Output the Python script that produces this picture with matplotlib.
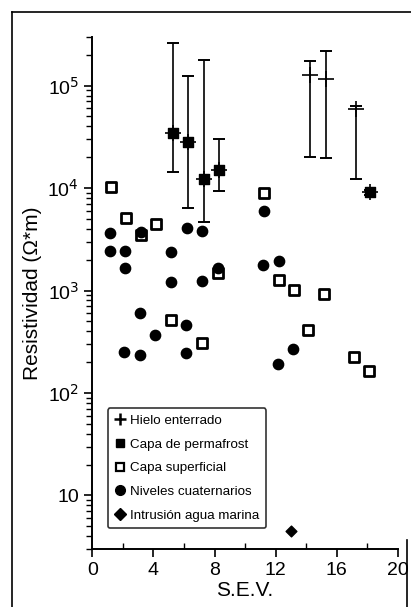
import matplotlib
matplotlib.use("Agg")
import matplotlib.pyplot as plt
from matplotlib.lines import Line2D
import numpy as np

plt.rcParams['font.family'] = ['Liberation Sans', 'DejaVu Sans']

# Hielo enterrado (crosses with error bars)
hielo_x = [5.27, 6.26, 7.28, 8.29, 14.28, 15.28, 17.25, 18.2]
hielo_y = [34400, 28200, 12300, 15100, 126000, 117000, 58700, 9100]
hielo_lo = [14300, 6450, 4640, 9460, 19900, 19600, 12300, 8600]
hielo_hi = [263000, 123000, 179000, 30000, 174000, 216000, 63000, 9600]

# Capa de permafrost (filled squares)
perma_x = [5.27, 6.26, 7.28, 8.29, 18.2]
perma_y = [34400, 28200, 12300, 15100, 9100]

# Capa superficial (open squares)
sup_x = [1.23, 2.19, 3.19, 4.18, 5.14, 7.15, 8.22, 11.21, 12.2, 13.18, 14.12, 15.15, 17.1, 18.1]
sup_y = [10200, 5080, 3470, 4470, 510, 309, 1470, 8900, 1260, 1010, 409, 930, 225, 164]

# Niveles cuaternarios (filled circles)
niv_x = [1.16, 1.16, 2.14, 2.14, 2.1, 3.19, 3.13, 3.13, 4.11, 5.16, 5.16, 6.21, 6.16, 6.12,
         7.21, 7.17, 8.22, 11.21, 11.17, 12.2, 12.16, 13.14]
niv_y = [3640, 2450, 2450, 1660, 251, 3760, 600, 234, 367, 2380, 1220, 4070, 463, 246,
         3850, 1250, 1660, 6000, 1760, 1950, 191, 266]

# Intrusión agua marina (diamond)
intr_x = [13.03]
intr_y = [4.45]

xticks = [0, 4, 8, 12, 16, 20]
yticks = [10, 100, 1000, 10000, 100000]
ytick_labels = ['10', '10$^{2}$', '10$^{3}$', '10$^{4}$', '10$^{5}$']

fig = plt.figure(figsize=(4.11, 6.07), dpi=100)
ax = fig.add_axes([0.2246, 0.0956, 0.968 - 0.2246, 0.9395 - 0.0956])

yerr = [np.array(hielo_y) - np.array(hielo_lo), np.array(hielo_hi) - np.array(hielo_y)]
ax.errorbar(hielo_x, hielo_y, yerr=yerr, fmt='none', ecolor='black', elinewidth=1.2,
            capsize=4.5, capthick=1.4, zorder=2)
ax.scatter(perma_x, perma_y, marker='s', s=60, color='black', zorder=3)
ax.scatter(hielo_x, hielo_y, marker='+', s=140, color='black', linewidths=1.2, zorder=4)
ax.scatter(sup_x, sup_y, marker='s', s=42, facecolor='white', edgecolor='black',
           linewidths=2.0, zorder=3)
ax.scatter(niv_x, niv_y, marker='o', s=55, color='black', zorder=3)
ax.scatter(intr_x, intr_y, marker='D', s=30, color='black', zorder=3)

ax.set_yscale('log')
ax.set_xlim(0, 20)
ax.set_ylim(3, 3e5)
ax.set_xticks(xticks)
ax.set_xticks([2, 6, 10, 14, 18], minor=True)
ax.set_yticks(yticks)
ax.set_yticklabels(ytick_labels)
ax.tick_params(axis='both', which='major', labelsize=14, length=6, width=1.2, direction='out')
ax.tick_params(axis='x', which='minor', length=4, width=1.0, direction='in')
ax.tick_params(axis='y', which='minor', length=4, width=1.0, direction='out')

for s in ['top', 'right']:
    ax.spines[s].set_visible(False)
for s in ['left', 'bottom']:
    ax.spines[s].set_linewidth(1.4)

ax.set_xlabel('S.E.V.', fontsize=15, labelpad=1)
ax.set_ylabel('Resistividad (\u03a9*m)', fontsize=15, labelpad=4)

handles = [
    Line2D([], [], marker='+', linestyle='none', color='black', markersize=8, markeredgewidth=1.8),
    Line2D([], [], marker='s', linestyle='none', color='black', markersize=6),
    Line2D([], [], marker='s', linestyle='none', markerfacecolor='white', markeredgecolor='black',
           markersize=6, markeredgewidth=1.6),
    Line2D([], [], marker='o', linestyle='none', color='black', markersize=7),
    Line2D([], [], marker='D', linestyle='none', color='black', markersize=6),
]
labels = ['Hielo enterrado', 'Capa de permafrost', 'Capa superficial',
          'Niveles cuaternarios', 'Intrusión agua marina']
leg = ax.legend(handles, labels, loc='lower left', bbox_to_anchor=(0.05, 0.04),
                borderaxespad=0, fontsize=9.6, frameon=True, fancybox=True,
                handlelength=0.8, handletextpad=0.4, labelspacing=0.85,
                borderpad=0.5, numpoints=1)
leg.get_frame().set_edgecolor('black')
leg.get_frame().set_linewidth(1.2)

# scanned page frame
fig.add_artist(Line2D([12 / 411, 12 / 411], [0, 1 - 12 / 607], transform=fig.transFigure,
                      color='black', linewidth=1.2))
fig.add_artist(Line2D([12 / 411, 1], [1 - 12 / 607, 1 - 12 / 607], transform=fig.transFigure,
                      color='black', linewidth=1.2))
fig.add_artist(Line2D([407 / 411, 407 / 411], [0, 1 - 540 / 607], transform=fig.transFigure,
                      color='black', linewidth=1.2))

fig.savefig('out.png', dpi=100)
